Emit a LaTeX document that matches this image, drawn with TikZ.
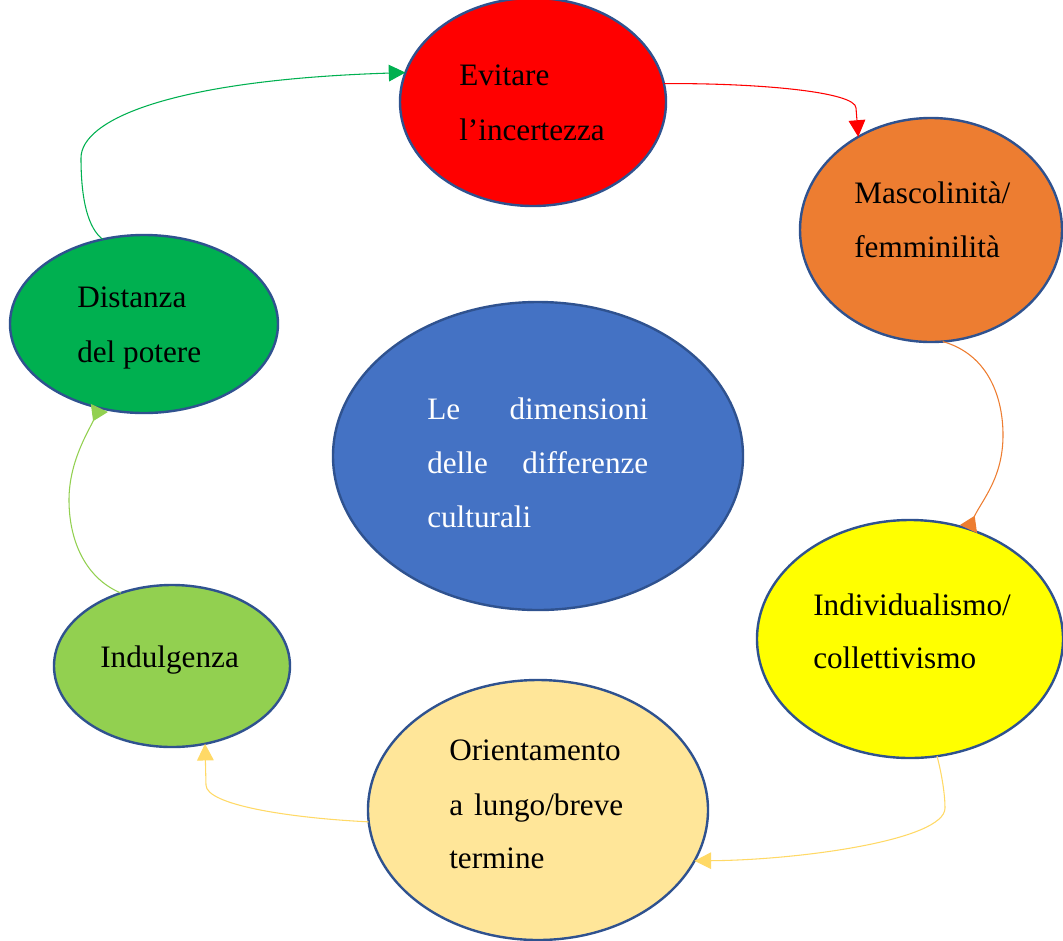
\documentclass[tikz,border=0pt]{standalone}
\usepackage{fontspec}
\setmainfont{Liberation Serif}
\usetikzlibrary{shapes.geometric,arrows.meta}
\definecolor{cred}{HTML}{FF0000}
\definecolor{corange}{HTML}{ED7D31}
\definecolor{cyellow}{HTML}{FFFF00}
\definecolor{cpale}{HTML}{FFE699}
\definecolor{cpaleline}{HTML}{FFD966}
\definecolor{clgreen}{HTML}{92D050}
\definecolor{cgreen}{HTML}{00B050}
\definecolor{cblue}{HTML}{4472C4}
\definecolor{cborder}{HTML}{2F528F}
\tikzset{
  bubble/.style={ellipse, draw=cborder, line width=1.8pt, inner sep=0pt, outer sep=0pt},
  lbl/.style={anchor=base west, inner sep=0pt, font=\fontsize{23.4}{23.4}\selectfont, text=black},
  wlbl/.style={lbl, text=white},
  conn/.style={line width=0.8pt, -{Triangle[length=12.5pt,width=12.5pt]}},
  rconn/.style={line width=0.8pt, -{Triangle[length=11pt,width=14pt,reversed]}}
}
\begin{document}
\begin{tikzpicture}[x=0.75pt,y=-0.75pt]
\useasboundingbox (0,0) rectangle (1063,940);
% ellipses
\node[bubble, fill=cred, minimum width=199.5pt, minimum height=156pt] (red) at (533,102) {};
\node[bubble, fill=corange, minimum width=196.5pt, minimum height=168pt] (orange) at (931,230) {};
\node[bubble, fill=cyellow, minimum width=229.5pt, minimum height=178.5pt] (yellow) at (910,639) {};
\node[bubble, fill=cpale, minimum width=255pt, minimum height=195pt] (orient) at (538,810) {};
\node[bubble, fill=clgreen, minimum width=177pt, minimum height=121.5pt] (indul) at (172,666) {};
\node[bubble, fill=cgreen, minimum width=201pt, minimum height=133.5pt] (dist) at (144,324) {};
\node[bubble, fill=cblue, minimum width=307.5pt, minimum height=231pt] (center) at (538,456) {};
% texts
\node[lbl] (t1a) at (459,85) {Evitare};
\node[lbl] (t1b) at (459,140) {l’incertezza};
\node[lbl] (t2a) at (854,203) {Mascolinità/};
\node[lbl] (t2b) at (854,257) {femminilità};
\node[lbl] (t3a) at (813,615) {Individualismo/};
\node[lbl] (t3b) at (813,668) {collettivismo};
\node[lbl] (t4a) at (449,760) {Orientamento};
\node[lbl] (t4b) at (449,815) {\makebox[130.5pt][l]{a\hfill lungo/breve}};
\node[lbl] (t4c) at (449,868) {termine};
\node[lbl] (t5a) at (100,667) {Indulgenza};
\node[lbl] (t6a) at (77,307) {Distanza};
\node[lbl] (t6b) at (77,362) {del potere};
\node[wlbl] (t7a) at (427,419) {\makebox[165.75pt][l]{Le\hfill dimensioni}};
\node[wlbl] (t7b) at (427,473) {\makebox[165.75pt][l]{delle\hfill differenze}};
\node[wlbl] (t7c) at (427,527) {culturali};
% connectors
\draw[conn, draw=cgreen] (dist.116) .. controls (88,228) and (81,200) .. (81,158)
  .. controls (81,120) and (170,80) .. (red.167);
\draw[conn, draw=cred] (red.8) .. controls (760,83) and (856,92) .. (856,108) -- (orange.128);
\draw[rconn, draw=corange] (orange.276) .. controls (990,355) and (1003,400) .. (1003,435)
  .. controls (1003,478) and (982,500) .. (yellow.62);
\draw[conn, draw=cpaleline] (yellow.283) .. controls (942,775) and (945,795) .. (945,808)
  .. controls (945,840) and (800,860) .. (orient.342);
\draw[conn, draw=cpaleline] (orient.184) .. controls (290,818) and (206,805) .. (206,785) -- (indul.293);
\draw[rconn, draw=clgreen] (indul.125) .. controls (85,578) and (69,540) .. (69,500)
  .. controls (69,462) and (88,432) .. (dist.242);
\end{tikzpicture}
\end{document}
